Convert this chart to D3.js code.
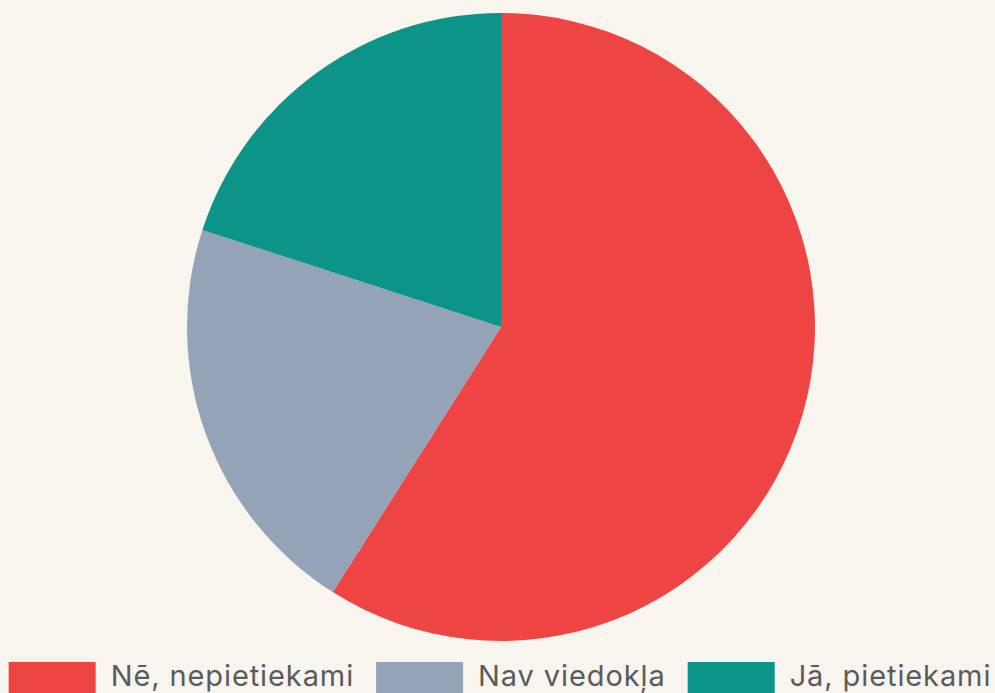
<!DOCTYPE html>
<html><head><meta charset="utf-8">
<script src="https://cdn.jsdelivr.net/npm/d3@7"></script>
<style>html,body{margin:0;padding:0;background:#F8F5EF;}svg{display:block;}</style>
</head><body>
<svg id="c" width="995" height="693"></svg>
<script>
const categories = ["Nē, nepietiekami", "Nav viedokļa", "Jā, pietiekami"];
const values = [59, 21, 20];
const colors = ["#EF4444", "#94A3B8", "#0D9488"];

const svg = d3.select("#c");
const W = 995, H = 693;
svg.append("rect").attr("width", W).attr("height", H).attr("fill", "#F8F5EF");

const cx = 501, cy = 327, r = 314;
const pie = d3.pie().sort(null).value(d => d)(values);
const arc = d3.arc().innerRadius(0).outerRadius(r);
const color = d3.scaleOrdinal().domain(categories).range(colors);

svg.append("g").attr("transform", `translate(${cx},${cy})`)
  .selectAll("path").data(pie).join("path")
  .attr("d", arc).attr("fill", (d, i) => color(categories[i]));

// legend
const fs = 29, rw = 87, rh = 40, gapT = 15, gapI = 22, ly = 662;
const lg = svg.append("g");
const items = lg.selectAll("g").data(categories).join("g");
items.append("rect").attr("width", rw).attr("height", rh).attr("y", ly)
  .attr("fill", d => color(d));
const texts = items.append("text").text(d => d)
  .attr("font-family", "Inter, 'Noto Sans', sans-serif").attr("font-size", fs)
  .attr("letter-spacing", "0.9px")
  .attr("fill", "#5B5B5B").attr("y", 686);
const widths = texts.nodes().map(n => n.getComputedTextLength());
const total = widths.reduce((a, w) => a + rw + gapT + w, 0) + gapI * (widths.length - 1);
let x = 500 - total / 2;
items.each(function(d, i) {
  const g = d3.select(this);
  g.select("rect").attr("x", x);
  g.select("text").attr("x", x + rw + gapT);
  x += rw + gapT + widths[i] + gapI;
});
</script>
</body></html>
